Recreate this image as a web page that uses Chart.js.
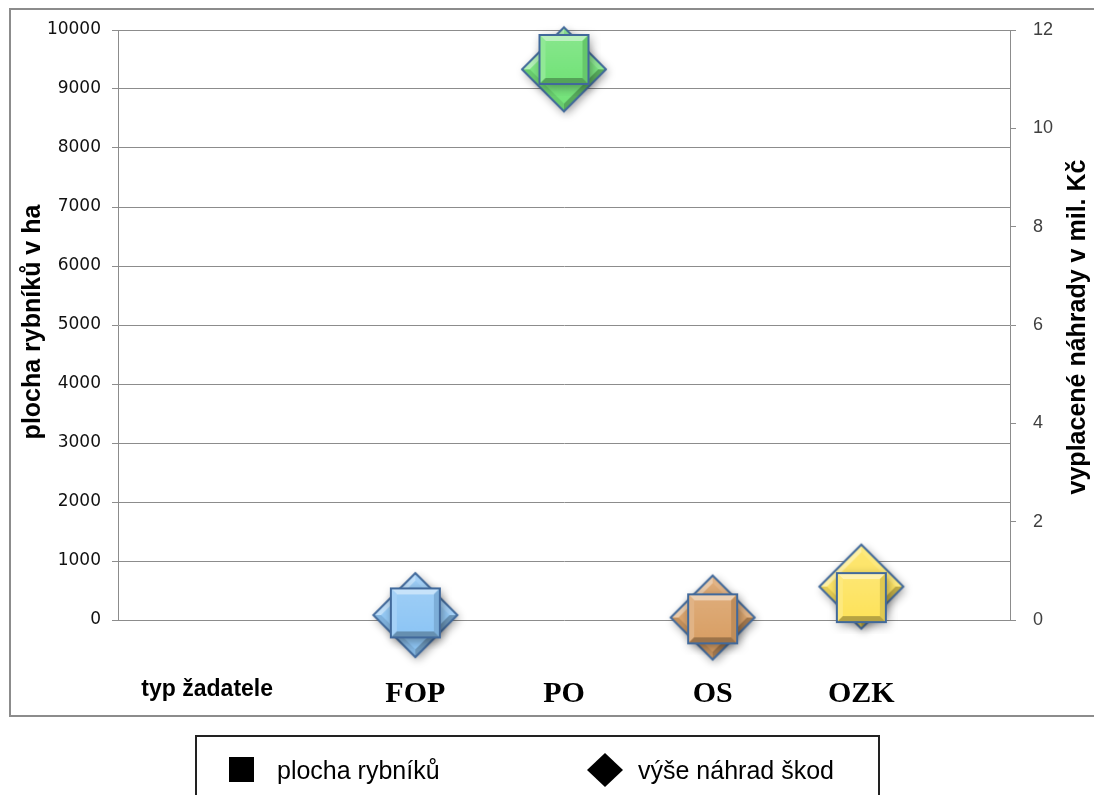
<!DOCTYPE html>
<html>
<head>
<meta charset="utf-8">
<script src="https://cdn.jsdelivr.net/npm/chart.js@4.4.1/dist/chart.umd.min.js"></script>
<style>
  html, body { margin: 0; padding: 0; background: #fff; }
  #wrap { width: 1094px; height: 795px; position: relative; }
  canvas { display: block; }
</style>
</head>
<body>
<div id="wrap"><canvas id="chart" width="1094" height="795"></canvas></div>
<script>
// Applicant types and their values
const categories = ['FOP', 'PO', 'OS', 'OZK'];
const categoryAxisTitle = 'typ žadatele';
const pondArea = [120, 9500, 20, 380];          // plocha rybníků, ha
const compensation = [0.1, 11.2, 0.05, 0.68];   // výše náhrad škod, mil. Kč
const areaTicks = [0, 1000, 2000, 3000, 4000, 5000, 6000, 7000, 8000, 9000, 10000];
const moneyTicks = [0, 2, 4, 6, 8, 10, 12];
const categoryColors = ['#8ec6f5', '#74e37a', '#d9a066', '#fde35c'];

const seriesLabels = ['plocha rybníků', 'výše náhrad škod'];
const axisTitles = ['plocha rybníků v ha', 'vyplacené náhrady v mil. Kč'];

// Horizontal slot layout of the category axis (0..6)
const SLOT_MAX = 6;
const FIRST_SLOT = 2;
const TITLE_SLOT = 0.6;

const EDGE = '#41699b';
const GRID = '#8c8c8c';

function mix(hex, target, t) {
  const n = parseInt(hex.slice(1), 16);
  const r = (n >> 16) & 255, g = (n >> 8) & 255, b = n & 255;
  const m = (c) => Math.round(c + (target - c) * t);
  return `rgb(${m(r)},${m(g)},${m(b)})`;
}
const lighter = (hex, t) => mix(hex, 255, t);
const darker = (hex, t) => mix(hex, 0, t);

function poly(g, pts, fill) {
  g.beginPath();
  g.moveTo(pts[0][0], pts[0][1]);
  for (let i = 1; i < pts.length; i++) g.lineTo(pts[i][0], pts[i][1]);
  g.closePath();
  g.fillStyle = fill;
  g.fill();
}

// Bevelled square marker with a soft drop shadow
function squareMarker(color, side) {
  const pad = 12;
  const size = side + pad * 2;
  const c = document.createElement('canvas');
  c.width = size; c.height = size;
  const g = c.getContext('2d');
  const x0 = pad, y0 = pad, x1 = pad + side, y1 = pad + side, b = 6;
  g.save();
  g.shadowColor = 'rgba(0,0,0,0.4)';
  g.shadowBlur = 10;
  g.shadowOffsetX = 2;
  g.shadowOffsetY = 3;
  g.fillStyle = color;
  g.fillRect(x0, y0, side, side);
  g.restore();
  poly(g, [[x0, y0], [x1, y0], [x1 - b, y0 + b], [x0 + b, y0 + b]], lighter(color, 0.5));
  poly(g, [[x0, y0], [x0 + b, y0 + b], [x0 + b, y1 - b], [x0, y1]], lighter(color, 0.2));
  poly(g, [[x1, y0], [x1, y1], [x1 - b, y1 - b], [x1 - b, y0 + b]], darker(color, 0.12));
  poly(g, [[x0, y1], [x0 + b, y1 - b], [x1 - b, y1 - b], [x1, y1]], darker(color, 0.28));
  const grad = g.createLinearGradient(0, y0 + b, 0, y1 - b);
  grad.addColorStop(0, lighter(color, 0.12));
  grad.addColorStop(1, color);
  g.fillStyle = grad;
  g.fillRect(x0 + b, y0 + b, side - 2 * b, side - 2 * b);
  g.strokeStyle = EDGE;
  g.lineWidth = 2;
  g.strokeRect(x0, y0, side, side);
  return c;
}

// Bevelled diamond marker with a soft drop shadow
function diamondMarker(color, r) {
  const pad = 12;
  const size = Math.ceil(r * 2 + pad * 2);
  const c = document.createElement('canvas');
  c.width = size; c.height = size;
  const g = c.getContext('2d');
  const cx = size / 2, cy = size / 2, ri = r - 8;
  const T = [cx, cy - r], R = [cx + r, cy], B = [cx, cy + r], L = [cx - r, cy];
  const t = [cx, cy - ri], rr = [cx + ri, cy], bb = [cx, cy + ri], l = [cx - ri, cy];
  g.save();
  g.shadowColor = 'rgba(0,0,0,0.4)';
  g.shadowBlur = 10;
  g.shadowOffsetX = 2;
  g.shadowOffsetY = 3;
  poly(g, [T, R, B, L], color);
  g.restore();
  poly(g, [L, T, t, l], lighter(color, 0.45));
  poly(g, [T, R, rr, t], lighter(color, 0.2));
  poly(g, [R, B, bb, rr], darker(color, 0.25));
  poly(g, [B, L, l, bb], darker(color, 0.1));
  const grad = g.createLinearGradient(0, cy - ri, 0, cy + ri);
  grad.addColorStop(0, lighter(color, 0.12));
  grad.addColorStop(1, color);
  poly(g, [t, rr, bb, l], grad);
  g.beginPath();
  g.moveTo(T[0], T[1]); g.lineTo(R[0], R[1]); g.lineTo(B[0], B[1]); g.lineTo(L[0], L[1]);
  g.closePath();
  g.strokeStyle = EDGE;
  g.lineWidth = 2;
  g.stroke();
  return c;
}

const squareMarkers = categoryColors.map((col) => squareMarker(col, 49));
const diamondMarkers = categoryColors.map((col) => diamondMarker(col, 42));

// Outer frame, rotated axis titles and the legend box below the chart
const decorations = {
  id: 'decorations',
  beforeDraw(chart) {
    const g = chart.ctx;
    g.save();
    g.strokeStyle = GRID;
    g.lineWidth = 2;
    g.strokeRect(10, 9, 1100, 707);
    g.restore();
  },
  afterDraw(chart) {
    const g = chart.ctx;
    const area = chart.chartArea;
    const midY = (area.top + area.bottom) / 2;
    g.save();
    g.fillStyle = '#000';
    g.font = 'bold 25px "Liberation Sans", Arial, sans-serif';
    g.textAlign = 'center';
    g.textBaseline = 'alphabetic';
    g.save();
    g.translate(40, midY - 3);
    g.rotate(-Math.PI / 2);
    g.fillText(axisTitles[0], 0, 0);
    g.restore();
    g.save();
    g.translate(1085, midY + 2);
    g.rotate(-Math.PI / 2);
    g.fillText(axisTitles[1], 0, 0);
    g.restore();

    // legend box
    g.strokeStyle = '#222';
    g.lineWidth = 2;
    g.strokeRect(196, 736, 683, 80);
    g.fillStyle = '#000';
    g.fillRect(229, 757, 25, 25);
    g.beginPath();
    g.moveTo(605, 753); g.lineTo(623, 770); g.lineTo(605, 787); g.lineTo(587, 770);
    g.closePath();
    g.fill();
    g.font = '25px "Liberation Sans", Arial, sans-serif';
    g.textAlign = 'left';
    g.fillText(chart.data.datasets[0].label, 277, 779);
    g.fillText(chart.data.datasets[1].label, 638, 779);
    g.restore();
  }
};

const tickFont = (ctx) => {
  const isTitle = ctx.tick && ctx.tick.value === TITLE_SLOT;
  return isTitle
    ? { family: '"Liberation Sans", Arial, sans-serif', size: 23, weight: 'bold', lineHeight: 1.2 }
    : { family: '"Liberation Serif", "Times New Roman", serif', size: 30, weight: 'bold', lineHeight: 1.2 };
};

new Chart(document.getElementById('chart'), {
  type: 'scatter',
  data: {
    datasets: [
      {
        label: seriesLabels[0],
        data: categories.map((c, i) => ({ x: FIRST_SLOT + i, y: pondArea[i] })),
        yAxisID: 'yArea',
        pointStyle: squareMarkers,
        pointRadius: 36,
        clip: false,
        order: 0
      },
      {
        label: seriesLabels[1],
        data: categories.map((c, i) => ({ x: FIRST_SLOT + i, y: compensation[i] })),
        yAxisID: 'yMoney',
        pointStyle: diamondMarkers,
        pointRadius: 44,
        clip: false,
        order: 1
      }
    ]
  },
  options: {
    responsive: false,
    animation: false,
    events: [],
    layout: { autoPadding: false, padding: { top: 30, left: 0, right: 0, bottom: 79 } },
    plugins: { legend: { display: false }, tooltip: { enabled: false } },
    scales: {
      x: {
        type: 'linear',
        position: 'bottom',
        min: 0,
        max: SLOT_MAX,
        grid: { display: false, drawTicks: false },
        border: { display: false },
        afterBuildTicks: (s) => {
          s.ticks = [{ value: TITLE_SLOT }].concat(categories.map((c, i) => ({ value: FIRST_SLOT + i })));
        },
        afterFit: (s) => { s.height = 96; },
        ticks: {
          autoSkip: false,
          maxRotation: 0,
          padding: 56,
          color: '#000',
          font: tickFont,
          callback: (v) => (v === TITLE_SLOT ? categoryAxisTitle : categories[v - FIRST_SLOT])
        }
      },
      yArea: {
        type: 'linear',
        position: 'left',
        min: 0,
        max: 10000,
        afterBuildTicks: (s) => { s.ticks = areaTicks.map((v) => ({ value: v })); },
        afterFit: (s) => { s.width = 118; },
        grid: { color: GRID, tickLength: 6 },
        border: { color: GRID },
        ticks: {
          padding: 11,
          color: '#111',
          font: { family: '"DejaVu Sans", Verdana, sans-serif', size: 17 },
          callback: (v) => String(v)
        }
      },
      yMoney: {
        type: 'linear',
        position: 'right',
        min: 0,
        max: 12,
        afterBuildTicks: (s) => { s.ticks = moneyTicks.map((v) => ({ value: v })); },
        afterFit: (s) => { s.width = 84; },
        grid: { drawOnChartArea: false, color: GRID, tickLength: 6 },
        border: { color: GRID },
        ticks: {
          padding: 17,
          color: '#404040',
          font: { family: '"Liberation Sans", Arial, sans-serif', size: 18 },
          callback: (v) => String(v)
        }
      }
    }
  },
  plugins: [decorations]
});
</script>
</body>
</html>
